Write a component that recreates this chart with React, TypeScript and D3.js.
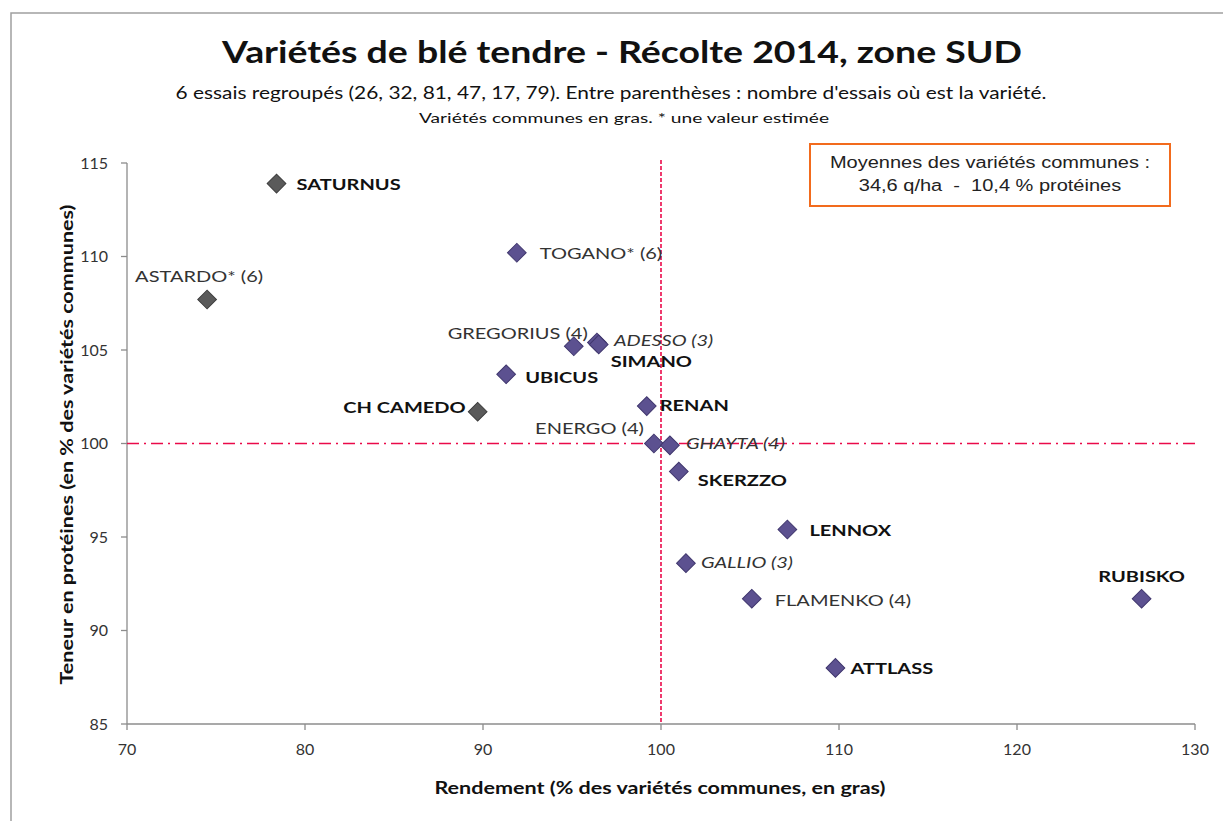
import * as d3 from 'd3'

// varieties, yield (% of common) and protein (% of common)
const NAMES = ['SATURNUS', 'TOGANO* (6)', 'ASTARDO* (6)', 'GREGORIUS (4)', 'ADESSO (3)', 'SIMANO', 'UBICUS', 'CH CAMEDO', 'RENAN', 'ENERGO (4)', 'GHAYTA (4)', 'SKERZZO', 'LENNOX', 'GALLIO (3)', 'FLAMENKO (4)', 'RUBISKO', 'ATTLASS']
const RENDEMENT = [78.4, 91.9, 74.5, 95.1, 96.4, 96.5, 91.3, 89.7, 99.2, 99.6, 100.5, 101.0, 107.1, 101.4, 105.1, 127.0, 109.8]
const PROTEINES = [113.9, 110.2, 107.7, 105.2, 105.4, 105.3, 103.7, 101.7, 102.0, 100.0, 99.9, 98.5, 95.4, 93.6, 91.7, 91.7, 88.0]
const COMMUNES = ['SATURNUS', 'SIMANO', 'UBICUS', 'CH CAMEDO', 'RENAN', 'SKERZZO', 'LENNOX', 'RUBISKO', 'ATTLASS']
const ITALIQUES = ['ADESSO (3)', 'GHAYTA (4)', 'GALLIO (3)']
const GRIS = ['SATURNUS', 'ASTARDO* (6)', 'CH CAMEDO']
const X_TICKS = [70, 80, 90, 100, 110, 120, 130]
const Y_TICKS = [85, 90, 95, 100, 105, 110, 115]

// where each label sits relative to its diamond: [dx, dy, anchor]
const LABEL_POS: Record<string, [number, number, string]> = {
  'SATURNUS': [20, 1, 'start'],
  'TOGANO* (6)': [23, 1, 'start'],
  'ASTARDO* (6)': [-8, -23, 'middle'],
  'GREGORIUS (4)': [14, -13, 'end'],
  'ADESSO (3)': [17, -2, 'start'],
  'SIMANO': [12, 17, 'start'],
  'UBICUS': [19, 3, 'start'],
  'CH CAMEDO': [-12, -4, 'end'],
  'RENAN': [13, -1, 'start'],
  'ENERGO (4)': [-10, -15, 'end'],
  'GHAYTA (4)': [16, -2, 'start'],
  'SKERZZO': [19, 9, 'start'],
  'LENNOX': [22, 1, 'start'],
  'GALLIO (3)': [15, -1, 'start'],
  'FLAMENKO (4)': [23, 2, 'start'],
  'RUBISKO': [0, -22, 'middle'],
  'ATTLASS': [15, 0, 'start'],
}

const W = 1223
const H = 821
const M = { left: 127, right: 28, top: 163, bottom: 97 }
const FONT = 'Lato, "Open Sans", sans-serif'
const STRETCH = 1.25 // the source picture is widened horizontally

export default function App() {
  const x = d3.scaleLinear().domain([70, 130]).range([M.left, W - M.right])
  const y = d3.scaleLinear().domain([85, 115]).range([H - M.bottom, M.top])
  const diamond = d3.symbol().type(d3.symbolSquare).size(175)()
  const axisColor = '#8c8c8c'
  const red = '#ea0a4a'

  return (
    <svg width={W} height={H} style={{ position: 'absolute', left: 0, top: 0, background: '#fff' }}>
      {/* outer frame */}
      <path d={`M11,${H} V13 H${W}`} fill="none" stroke="#a0a0a0" strokeWidth={1.5} />

      <text x={622} y={63} textAnchor="middle" fontFamily={FONT} fontWeight={700} fontSize={31} fill="#111" textLength={800} lengthAdjust="spacingAndGlyphs">
        Variétés de blé tendre - Récolte 2014, zone SUD
      </text>
      <text x={611} y={99} textAnchor="middle" fontFamily={FONT} fontSize={17} fill="#111" textLength={871} lengthAdjust="spacingAndGlyphs">
        6 essais regroupés (26, 32, 81, 47, 17, 79).  Entre parenthèses : nombre d'essais où est la variété.
      </text>
      <text x={624} y={123} textAnchor="middle" fontFamily={FONT} fontSize={13.5} fill="#111" textLength={410} lengthAdjust="spacingAndGlyphs">
        Variétés communes en gras. * une valeur estimée
      </text>

      {/* axes */}
      <line x1={x(70)} x2={x(70)} y1={y(115)} y2={y(85)} stroke={axisColor} strokeWidth={1.3} />
      <line x1={x(70)} x2={x(130)} y1={y(85)} y2={y(85)} stroke={axisColor} strokeWidth={1.3} />
      {Y_TICKS.map(t => (
        <g key={'y' + t}>
          <line x1={x(70) - 6} x2={x(70)} y1={y(t)} y2={y(t)} stroke={axisColor} strokeWidth={1.3} />
          <text x={x(70) - 19} y={y(t)} dy="0.35em" textAnchor="end" fontFamily={FONT} fontSize={16} fill="#333">{t}</text>
        </g>
      ))}
      {X_TICKS.map(t => (
        <g key={'x' + t}>
          <line x1={x(t)} x2={x(t)} y1={y(85)} y2={y(85) + 6} stroke={axisColor} strokeWidth={1.3} />
          <text x={x(t)} y={y(85) + 31} textAnchor="middle" fontFamily={FONT} fontSize={16} fill="#333">{t}</text>
        </g>
      ))}

      <text x={660} y={794} textAnchor="middle" fontFamily={FONT} fontWeight={700} fontSize={16.5} fill="#111" textLength={451} lengthAdjust="spacingAndGlyphs">
        Rendement (% des variétés communes, en gras)
      </text>
      <text transform={`translate(73,${(y(85) + y(115)) / 2 + 1}) rotate(-90)`} textAnchor="middle" fontFamily={FONT} fontWeight={700} fontSize={16.5} fill="#111" textLength={480} lengthAdjust="spacingAndGlyphs">
        Teneur en protéines (en % des variétés communes)
      </text>

      {/* reference lines at 100 */}
      <line x1={x(100)} x2={x(100)} y1={y(115) - 3} y2={y(85)} stroke={red} strokeWidth={1.6} strokeDasharray="4,2" />
      <line x1={x(70)} x2={x(130)} y1={y(100)} y2={y(100)} stroke={red} strokeWidth={1.7} strokeDasharray="12,5,2,5" />

      {/* averages box */}
      <rect x={810} y={144} width={360} height={62} fill="#fff" stroke="#f26b1d" strokeWidth={2} />
      <text transform={`translate(990,168) scale(${STRETCH},1)`} textAnchor="middle" fontFamily='"Liberation Sans", Arial, sans-serif' fontSize={16} fill="#222">Moyennes des variétés communes :</text>
      <text transform={`translate(990,191) scale(${STRETCH},1)`} textAnchor="middle" fontFamily='"Liberation Sans", Arial, sans-serif' fontSize={16} fill="#222" style={{ whiteSpace: 'pre' }}>34,6 q/ha  -  10,4 % protéines</text>

      {NAMES.map((n, i) => {
        const px = x(RENDEMENT[i])
        const py = y(PROTEINES[i])
        const gray = GRIS.includes(n)
        return (
          <path key={'p' + n} d={diamond!} transform={`translate(${px},${py}) rotate(45)`}
            fill={gray ? '#5a5a5a' : '#5c5190'} stroke={gray ? '#3e3e3e' : '#40376e'} strokeWidth={1} />
        )
      })}
      {NAMES.map((n, i) => {
        const [dx, dy, anchor] = LABEL_POS[n]
        const bold = COMMUNES.includes(n)
        const ital = ITALIQUES.includes(n)
        return (
          <text key={'l' + n} transform={`translate(${x(RENDEMENT[i]) + dx},${y(PROTEINES[i]) + dy}) scale(${STRETCH},1)`}
            dy="0.35em" textAnchor={anchor}
            fontFamily={FONT} fontSize={16} fontWeight={bold ? 700 : 400} fontStyle={ital ? 'italic' : 'normal'}
            fill={bold ? '#111' : '#333'}>
            {n}
          </text>
        )
      })}
    </svg>
  )
}
